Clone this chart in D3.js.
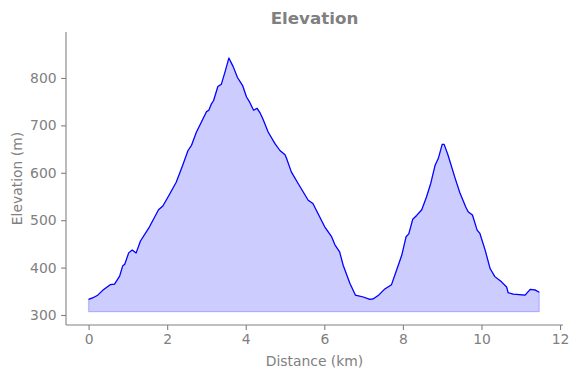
<!DOCTYPE html>
<html lang="en">
<head>
    <meta charset="utf-8">
    <title>Elevation</title>
    <script src="https://d3js.org/d3.v7.min.js"></script>
    <style>
      body { margin: 0; background: #fff; }
      text { font-family: "DejaVu Sans", sans-serif; fill: #808080; }
    </style>
</head>
<body>
<svg id="chart"></svg>
<script>
    // Profile: distance (km) and elevation (m)
    const distance = [0.00, 0.10, 0.22, 0.36, 0.55, 0.66, 0.79, 0.87, 0.92, 1.02, 1.11, 1.21, 1.32, 1.55,
        1.78, 1.89, 2.05, 2.23, 2.40, 2.53, 2.62, 2.74, 2.90, 3.00, 3.06, 3.13, 3.18, 3.29, 3.38, 3.48,
        3.57, 3.68, 3.79, 3.92, 4.02, 4.10, 4.20, 4.29, 4.36, 4.44, 4.57, 4.74, 4.87, 5.00, 5.04, 5.16,
        5.33, 5.59, 5.71, 6.01, 6.18, 6.27, 6.39, 6.48, 6.65, 6.79, 6.99, 7.16, 7.24, 7.37, 7.54, 7.71,
        7.84, 7.97, 8.08, 8.15, 8.25, 8.35, 8.48, 8.60, 8.71, 8.82, 8.90, 9.00, 9.05, 9.15, 9.32, 9.45,
        9.60, 9.66, 9.77, 9.89, 9.96, 10.09, 10.22, 10.34, 10.51, 10.64, 10.68, 10.81, 11.11, 11.24,
        11.36, 11.47];
    const elevation = [333, 336, 341, 352, 364, 365, 382, 404, 407, 431, 437, 431, 456, 486,
        522, 530, 553, 580, 617, 647, 658, 685, 712, 729, 732, 746, 752, 782, 787, 815,
        842, 824, 801, 784, 760, 749, 732, 736, 727, 713, 686, 662, 647, 638, 630, 602,
        578, 542, 535, 486, 466, 448, 433, 405, 367, 342, 338, 333, 334, 341, 355, 364,
        395, 426, 465, 471, 502, 510, 522, 549, 578, 616, 630, 660, 660, 637, 591, 558,
        528, 518, 511, 479, 472, 438, 398, 381, 370, 359, 347, 344, 342, 354,
        353, 348];
    const baseline = 307;
    const xTicks = [0, 2, 4, 6, 8, 10, 12];
    const yTicks = [300, 400, 500, 600, 700, 800];

    const width = 580, height = 378;
    const plotLeft = 66, plotRight = 563, plotTop = 32, plotBottom = 325;

    const svg = d3.select("#chart")
        .attr("width", width)
        .attr("height", height);

    const x = d3.scaleLinear().domain([-0.575, 12.075]).range([plotLeft, plotRight]);
    const y = d3.scaleLinear().domain([278.9, 897]).range([plotBottom, plotTop]);

    const points = distance.map((d, i) => [d, elevation[i]]);

    // filled area under the profile
    svg.append("path")
        .datum(points)
        .attr("d", d3.area().x(d => x(d[0])).y0(y(baseline)).y1(d => y(d[1])))
        .attr("fill", "rgba(0,0,255,0.2)")
        .attr("stroke", "rgba(0,0,255,0.2)")
        .attr("stroke-width", 1.3);

    // profile line
    svg.append("path")
        .datum(points)
        .attr("d", d3.line().x(d => x(d[0])).y(d => y(d[1])))
        .attr("fill", "none")
        .attr("stroke", "#0000ff")
        .attr("stroke-width", 1.2)
        .attr("stroke-linejoin", "round");

    // axes
    const xAxis = svg.append("g")
        .attr("transform", `translate(0,${plotBottom})`)
        .call(d3.axisBottom(x).tickValues(xTicks).tickFormat(d3.format("d")).tickSize(4.9).tickPadding(4.5));
    const yAxis = svg.append("g")
        .attr("transform", `translate(${plotLeft},0)`)
        .call(d3.axisLeft(y).tickValues(yTicks).tickFormat(d3.format("d")).tickSize(4.9).tickPadding(4.5));

    [xAxis, yAxis].forEach(g => {
        g.select(".domain").attr("stroke", "#808080").attr("stroke-width", 1.1);
        g.selectAll(".tick line").attr("stroke", "#808080").attr("stroke-width", 1.1);
        g.selectAll(".tick text")
            .attr("fill", "#808080")
            .style("font-family", "DejaVu Sans")
            .style("font-size", "13.9px");
    });
    // matplotlib-style spines: the path without the outer ticks
    xAxis.select(".domain").attr("d", `M${plotLeft},0H${plotRight}`);
    yAxis.select(".domain").attr("d", `M0,${plotBottom}V${plotTop}`);

    // labels
    svg.append("text")
        .attr("x", (plotLeft + plotRight) / 2)
        .attr("y", 24)
        .attr("text-anchor", "middle")
        .style("font-size", "16.7px")
        .style("font-weight", "bold")
        .text("Elevation");

    svg.append("text")
        .attr("x", (plotLeft + plotRight) / 2)
        .attr("y", 366)
        .attr("text-anchor", "middle")
        .style("font-size", "13.9px")
        .text("Distance (km)");

    svg.append("text")
        .attr("transform", `translate(22,${(plotTop + plotBottom) / 2}) rotate(-90)`)
        .attr("text-anchor", "middle")
        .style("font-size", "13.9px")
        .text("Elevation (m)");
</script>
</body>
</html>
